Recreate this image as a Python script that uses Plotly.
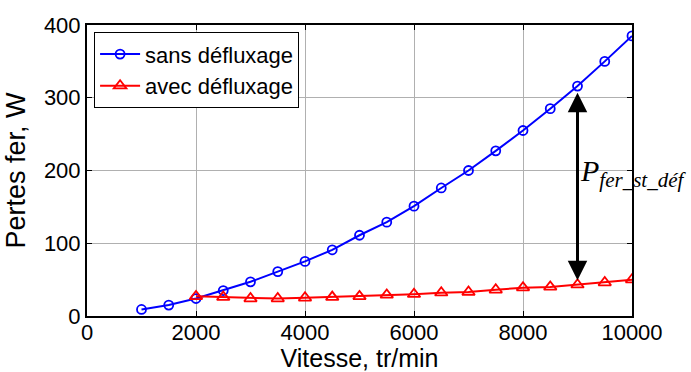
import plotly.graph_objects as go

# Data
vitesse_sans = [1000, 1500, 2000, 2500, 3000, 3500, 4000, 4500, 5000, 5500,
                6000, 6500, 7000, 7500, 8000, 8500, 9000, 9500, 10000]
pertes_sans = [9, 15, 24, 35, 47, 61, 75, 91, 111, 129,
               151, 176, 200, 227, 255, 285, 316, 350, 385]
vitesse_avec = [2000, 2500, 3000, 3500, 4000, 4500, 5000, 5500, 6000,
                6500, 7000, 7500, 8000, 8500, 9000, 9500, 10000]
pertes_avec = [27, 26, 24, 24, 25, 26, 27, 29, 30,
               32, 33, 36, 39, 40, 43, 46, 50]
x_ticks = [0, 2000, 4000, 6000, 8000, 10000]
y_ticks = [0, 100, 200, 300, 400]
arrow_speed = 9000

FONT = "Liberation Sans, Arial, sans-serif"

fig = go.Figure()
fig.add_trace(go.Scatter(
    x=vitesse_sans, y=pertes_sans, mode="lines+markers", name="sans défluxage",
    line=dict(color="#0000ff", width=2),
    marker=dict(symbol="circle-open", size=9, color="#0000ff", line=dict(width=1.8)),
))
fig.add_trace(go.Scatter(
    x=vitesse_avec, y=pertes_avec, mode="lines+markers", name="avec défluxage",
    line=dict(color="#ff0000", width=2),
    marker=dict(symbol="triangle-up-open", size=11, color="#ff0000", line=dict(width=1.8)),
))

i_s = vitesse_sans.index(arrow_speed)
i_a = vitesse_avec.index(arrow_speed)
y_top = pertes_sans[i_s] - 9
y_bot = pertes_avec[i_a] + 4

fig.add_annotation(
    x=arrow_speed, y=y_top, ax=arrow_speed, ay=y_bot,
    xref="x", yref="y", axref="x", ayref="y",
    text="", showarrow=True, arrowhead=2, startarrowhead=2,
    arrowside="end+start", arrowwidth=3, arrowsize=1.3, startarrowsize=1.3,
    arrowcolor="black", standoff=0, startstandoff=0,
)
fig.add_annotation(
    x=arrow_speed + 20, y=(y_top + y_bot) / 2 + 20, xref="x", yref="y",
    text="<i>P</i><sub><i>fer_st_déf</i></sub>", showarrow=False,
    xanchor="left", yanchor="middle", borderpad=0,
    font=dict(family="Liberation Serif, Times New Roman, serif", size=30, color="black"),
)

axis_common = dict(
    showline=True, linecolor="black", linewidth=2, mirror="ticks",
    ticks="inside", ticklen=5, tickwidth=1, tickcolor="black",
    showgrid=True, gridcolor="#b0b0b0", gridwidth=1, zeroline=False,
    tickfont=dict(family=FONT, size=22, color="black"),
    automargin=False,
)

fig.update_xaxes(
    range=[0, 10000], tickvals=x_ticks, ticktext=[str(v) for v in x_ticks],
    ticklabelstandoff=-4,
    title=dict(text="Vitesse, tr/min", font=dict(family=FONT, size=25, color="black"), standoff=0),
    **axis_common,
)
fig.update_yaxes(
    range=[0, 400], tickvals=y_ticks, ticktext=[str(v) for v in y_ticks],
    title=dict(text="Pertes fer, W", font=dict(family=FONT, size=27, color="black"), standoff=10),
    **axis_common,
)

fig.update_layout(
    width=691, height=372,
    margin=dict(l=87, r=59, t=25, b=56),
    paper_bgcolor="white", plot_bgcolor="white",
    showlegend=True,
    legend=dict(
        x=0.013, y=0.975, xanchor="left", yanchor="top",
        bgcolor="white", bordercolor="black", borderwidth=1,
        font=dict(family=FONT, size=22, color="black"),
        itemwidth=40, tracegroupgap=0,
    ),
)

fig.write_html(
    "out.html",
    config={"displayModeBar": False},
    post_script="document.body.style.margin='0';document.body.style.padding='0';",
)
